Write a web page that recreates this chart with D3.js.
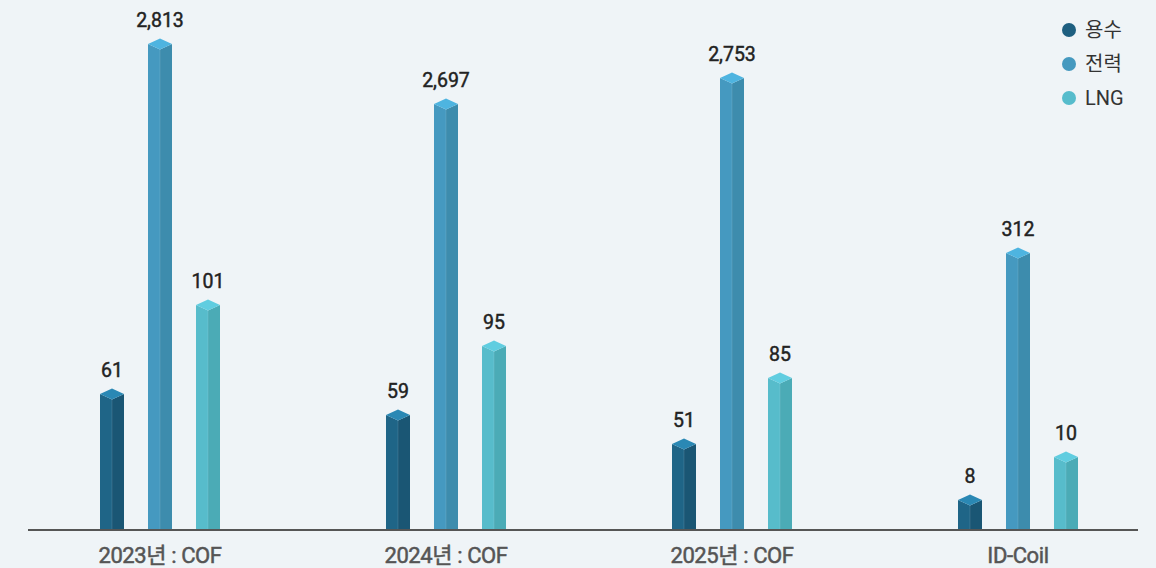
<!DOCTYPE html>
<html>
<head>
<meta charset="utf-8">
<script src="https://cdn.jsdelivr.net/npm/d3@7/dist/d3.min.js"></script>
<style>
  html, body { margin: 0; padding: 0; background: #eff4f7; }
  svg { display: block; font-family: Roboto, "Noto Sans CJK KR", sans-serif; }
</style>
</head>
<body>
<div id="chart"></div>
<script>
const categories = ["2023년 : COF", "2024년 : COF", "2025년 : COF", "ID-Coil"];
const seriesNames = ["용수", "전력", "LNG"];
const water = [61, 59, 51, 8];
const power = [2813, 2697, 2753, 312];
const lng = [101, 95, 85, 10];

const colors = {
    "용수": { left: "#1f6587", right: "#1a5674", top: "#2a88b4", dot: "#1e5f80" },
    "전력": { left: "#4599c0", right: "#3d8cad", top: "#4eb4e0", dot: "#4599bf" },
    "LNG":  { left: "#57bccb", right: "#4babb6", top: "#60cde0", dot: "#56bccc" }
};

const width = 1156, height = 568;
const baseline = 529;

const data = categories.map((c, i) => ({
    category: c,
    values: [
        { key: "용수", value: water[i] },
        { key: "전력", value: power[i] },
        { key: "LNG", value: lng[i] }
    ]
}));

// the source drawing is not to scale: bar heights follow a hand-set, monotone
// (piecewise) mapping, so a polylinear scale reproduces it
const yScale = d3.scaleLinear()
    .domain([0, 8, 10, 51, 59, 61, 85, 95, 101, 312, 2697, 2753, 2813])
    .range([baseline, 500, 457, 444, 415, 394, 378, 346, 305, 253, 104, 78, 44]);

const xScale = d3.scalePoint().domain(categories).range([160, 1018]);
const inner = d3.scalePoint().domain(seriesNames).range([-48, 48]);
const barW = 24, half = barW / 2, depth = 5.5;

const svg = d3.select("#chart")
    .append("svg")
    .attr("width", width)
    .attr("height", height);

const groups = svg.selectAll(".group")
    .data(data)
    .enter().append("g")
    .attr("class", "group")
    .attr("transform", d => `translate(${xScale(d.category)},0)`);

const bars = groups.selectAll(".bar")
    .data(d => d.values)
    .enter().append("g")
    .attr("class", "bar")
    .attr("transform", d => `translate(${inner(d.key)},0)`);

bars.append("polygon")
    .attr("points", d => {
        const t = yScale(d.value);
        return [[-half, t], [0, t + depth], [0, baseline], [-half, baseline]].join(" ");
    })
    .attr("fill", d => colors[d.key].left);

bars.append("polygon")
    .attr("points", d => {
        const t = yScale(d.value);
        return [[0, t + depth], [half, t], [half, baseline], [0, baseline]].join(" ");
    })
    .attr("fill", d => colors[d.key].right);

bars.append("polygon")
    .attr("points", d => {
        const t = yScale(d.value);
        return [[-half, t], [0, t - depth], [half, t], [0, t + depth]].join(" ");
    })
    .attr("fill", d => colors[d.key].top);

bars.append("line")
    .attr("x1", 0)
    .attr("x2", 0)
    .attr("y1", d => yScale(d.value) + depth)
    .attr("y2", baseline)
    .attr("stroke", "#ffffff")
    .attr("stroke-opacity", 0.12)
    .attr("stroke-width", 1);

bars.append("text")
    .attr("x", 0)
    .attr("y", d => yScale(d.value) - depth - 11.5)
    .attr("text-anchor", "middle")
    .attr("font-size", "19.5px")
    .attr("font-weight", 400)
    .attr("fill", "#222")
    .attr("stroke", "#222")
    .attr("stroke-width", 0.45)
    .text(d => d3.format(",")(d.value));

// baseline axis
svg.append("line")
    .attr("x1", 28)
    .attr("x2", 1138)
    .attr("y1", baseline + 1)
    .attr("y2", baseline + 1)
    .attr("stroke", "#555")
    .attr("stroke-width", 2);

svg.selectAll(".xLabel")
    .data(categories)
    .enter().append("text")
    .attr("class", "xLabel")
    .attr("x", d => xScale(d))
    .attr("y", 563)
    .attr("text-anchor", "middle")
    .attr("font-size", "22px")
    .attr("font-weight", 400)
    .attr("letter-spacing", "-0.4px")
    .attr("fill", "#555")
    .attr("stroke", "#555")
    .attr("stroke-width", 0.5)
    .text(d => d);

// legend
const legend = svg.selectAll(".legend")
    .data(seriesNames)
    .enter().append("g")
    .attr("class", "legend")
    .attr("transform", (d, i) => `translate(1069,${30 + i * 34})`);

legend.append("circle")
    .attr("r", 7)
    .attr("fill", d => colors[d].dot);

legend.append("text")
    .attr("x", 16)
    .attr("y", 0)
    .attr("dy", "0.35em")
    .attr("font-size", "20px")
    .attr("fill", "#333")
    .text(d => d);
</script>
</body>
</html>
